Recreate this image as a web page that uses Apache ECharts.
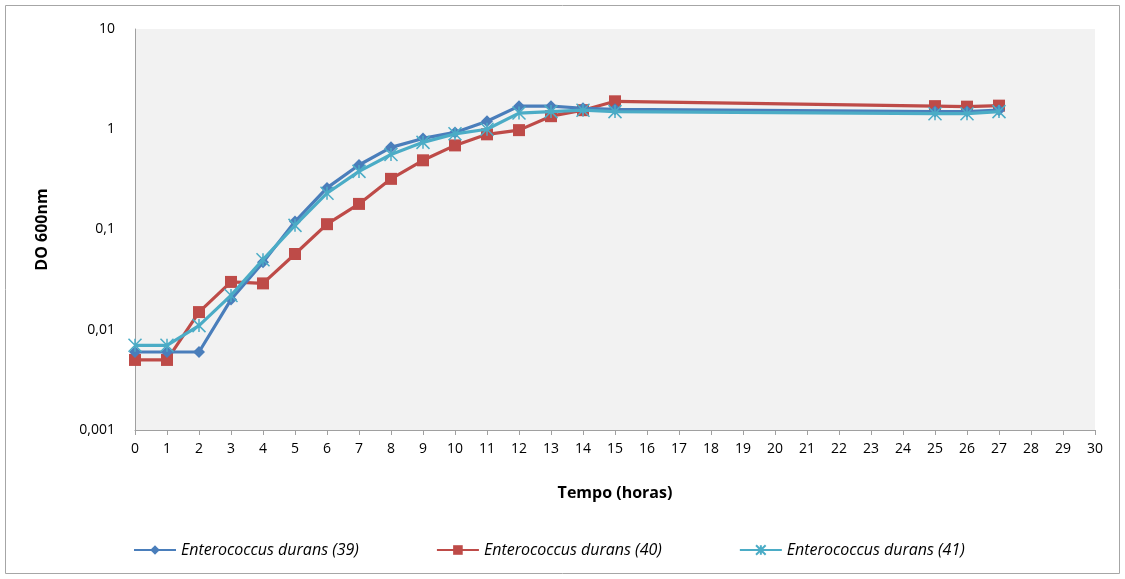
<!DOCTYPE html>
<html><head><meta charset="utf-8">
<script src="https://cdn.jsdelivr.net/npm/echarts@6/dist/echarts.min.js"></script>
<style>html,body{margin:0;padding:0;background:#fff}#c{width:1125px;height:579px}</style>
</head><body><div id="c"></div>
<script>
const hours = [0,1,2,3,4,5,6,7,8,9,10,11,12,13,14,15,25,26,27];
const s39 = [0.006,0.006,0.006,0.02,0.047,0.12,0.26,0.44,0.66,0.81,0.93,1.2,1.7,1.7,1.62,1.58,1.5,1.5,1.55];
const s40 = [0.005,0.005,0.015,0.03,0.029,0.057,0.113,0.18,0.32,0.49,0.69,0.89,0.98,1.35,1.55,1.9,1.7,1.68,1.72];
const s41 = [0.007,0.007,0.011,0.022,0.05,0.11,0.23,0.38,0.56,0.74,0.9,1.0,1.45,1.5,1.55,1.5,1.43,1.43,1.5];
const names = ['Enterococcus durans (39)','Enterococcus durans (40)','Enterococcus durans (41)'];
const yTickLabels = {'-3':'0,001','-2':'0,01','-1':'0,1','0':'1','1':'10'};
const font = 'Open Sans';
const pairs = a => hours.map((h,i)=>[h,a[i]]);
const star = 'path://M0,0L10,10M10,0L0,10M5,0L5,10';
const chart = echarts.init(document.getElementById('c'));
chart.setOption({
  animation:false,
  graphic:[{type:'rect',shape:{x:5.5,y:5.5,width:1114,height:568},style:{fill:'none',stroke:'#a6a6a6',lineWidth:1},z:-10}],
  grid:{left:135,right:30,top:29,bottom:149,show:true,backgroundColor:'#f2f2f2',borderWidth:0},
  xAxis:{type:'value',min:0,max:30,interval:1,
    name:'Tempo (horas)',nameLocation:'middle',nameGap:55,
    nameTextStyle:{fontFamily:font,fontWeight:'bold',fontSize:16,color:'#000'},
    axisLine:{lineStyle:{color:'#a0a0a0',width:1}},
    axisTick:{show:true,length:5,lineStyle:{color:'#a0a0a0'}},
    axisLabel:{fontFamily:font,fontSize:14,color:'#000',margin:12},
    splitLine:{show:false}},
  yAxis:{type:'log',logBase:10,min:0.001,max:10,
    name:'DO 600nm',nameLocation:'middle',nameGap:85,nameRotate:90,
    nameTextStyle:{fontFamily:font,fontWeight:'bold',fontSize:16,color:'#000'},
    axisLine:{show:true,lineStyle:{color:'#a0a0a0',width:1}},
    axisTick:{show:false},
    axisLabel:{fontFamily:font,fontSize:14,color:'#000',margin:20,
      formatter:v=>yTickLabels[String(Math.round(Math.log10(v)))]},
    splitLine:{show:false}},
  legend:{top:537,left:128,itemGap:77,itemWidth:42,itemHeight:12,itemTextGap:4,
    textStyle:{fontFamily:font,fontStyle:'italic',fontSize:16,color:'#000'},
    data:names},
  series:[
    {name:names[0],type:'line',data:pairs(s39),symbol:'diamond',symbolSize:12,
      lineStyle:{color:'#4a7ebb',width:3.2},itemStyle:{color:'#4a7ebb'},z:3},
    {name:names[1],type:'line',data:pairs(s40),symbol:'rect',symbolSize:12,
      lineStyle:{color:'#be4b48',width:3.2},itemStyle:{color:'#be4b48'},z:2},
    {name:names[2],type:'line',data:pairs(s41),symbol:star,symbolSize:13,
      lineStyle:{color:'#4bacc6',width:3.2},itemStyle:{color:'none',borderColor:'#4bacc6',borderWidth:1.5},z:4}
  ]
});
</script></body></html>
